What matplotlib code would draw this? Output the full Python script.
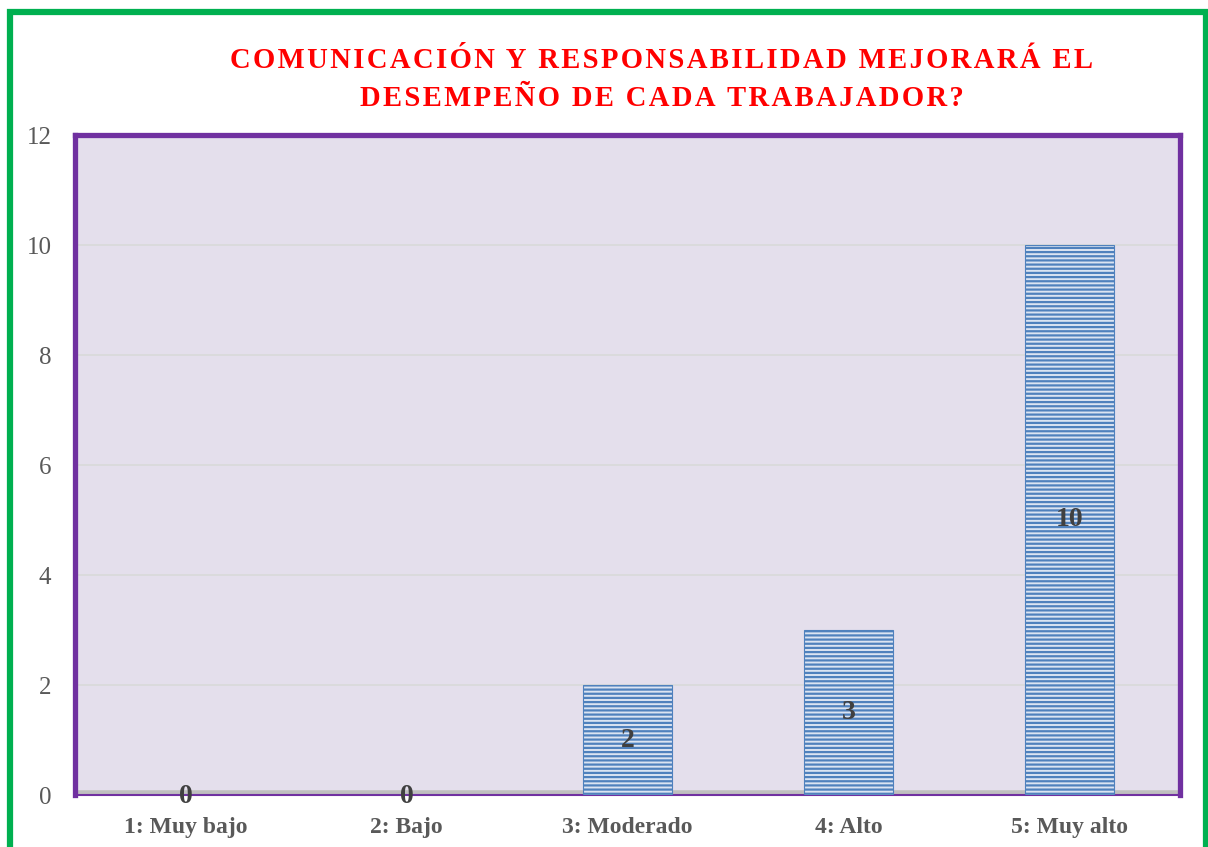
import matplotlib
matplotlib.use("Agg")
import matplotlib.pyplot as plt
from matplotlib.patches import Rectangle

categories = ["1: Muy bajo", "2: Bajo", "3: Moderado", "4: Alto", "5: Muy alto"]
values = [0, 0, 2, 3, 10]
yticks = [0, 2, 4, 6, 8, 10, 12]
title_lines = ["COMUNICACIÓN Y RESPONSABILIDAD MEJORARÁ EL", "DESEMPEÑO DE CADA TRABAJADOR?"]

plt.rcParams["hatch.linewidth"] = 1.6
W, H = 1208, 847
fig = plt.figure(figsize=(W / 100, H / 100), dpi=100)
serif = ["Liberation Serif", "DejaVu Serif"]

# green outer border
fig.patches.append(Rectangle((10 / W, -0.05), (1196) / W, 1 - 12 / H + 0.05,
                             transform=fig.transFigure, fill=False,
                             edgecolor="#00b050", linewidth=4.5, clip_on=False))

ax = fig.add_axes([75 / W, 1 - 795 / H, (1180 - 75) / W, (795 - 135) / H])
ax.set_facecolor("#e4dfec")
x = list(range(len(categories)))
bars = ax.bar(x, values, width=0.4, color="#dbe4f2", edgecolor="#4f81bd",
              hatch="----", linewidth=0.8, zorder=3)
ax.set_xlim(-0.5, len(categories) - 0.5)
ax.set_ylim(0, 12)
ax.set_yticks(yticks)
ax.set_yticklabels([str(t) for t in yticks], fontsize=18, color="#595959", family=serif)
ax.set_xticks(x)
ax.set_xticklabels(categories, fontsize=17, fontweight="bold", color="#595959", family=serif)
ax.tick_params(axis="x", length=0, pad=16)
ax.tick_params(axis="y", length=0, pad=17)
ax.grid(axis="y", color="#d9d9d9", linewidth=1.2, zorder=0)
ax.set_axisbelow(True)
for side in ["left", "top", "right"]:
    ax.spines[side].set_color("#7030a0")
    ax.spines[side].set_linewidth(3.8)
ax.spines["bottom"].set_color("#7030a0")
ax.spines["bottom"].set_linewidth(1.5)
# grey floor
ax.axhline(0.045, color="#bfbfbf", linewidth=4, zorder=2)

for xi, v in zip(x, values):
    ax.text(xi, v / 2 if v else -0.03, str(v), ha="center", va="center",
            fontsize=20, fontweight="bold", color="#404040", family=serif, zorder=5)

sp = "\u200a"
def spaced(s):
    return sp.join(s).replace(sp + " " + sp, sp * 2 + " ")

fig.text(662 / W, 1 - 61 / H, spaced(title_lines[0]), ha="center", va="center",
         fontsize=20.6, fontweight="bold", color="#ff0000", family=serif)
fig.text(662 / W, 1 - 99 / H, spaced(title_lines[1]), ha="center", va="center",
         fontsize=20.6, fontweight="bold", color="#ff0000", family=serif)

fig.savefig("out.png", dpi=100)
